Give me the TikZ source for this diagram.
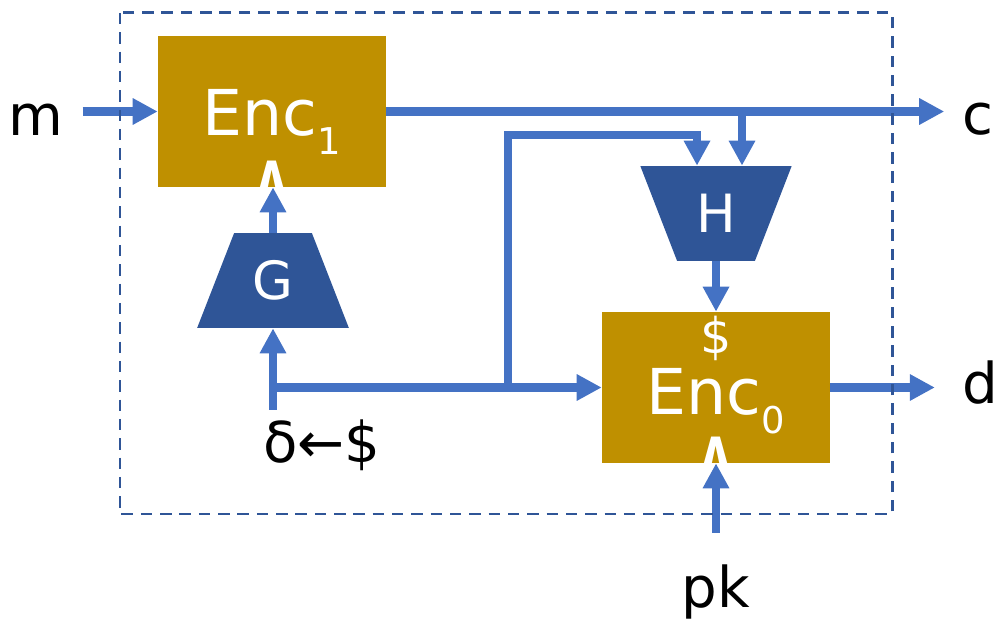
\documentclass[tikz,border=0pt]{standalone}
\usepackage{fontspec}
\setmainfont{DejaVu Sans}
\usetikzlibrary{arrows.meta,shapes.geometric}
\definecolor{EncGold}{HTML}{BF9000}
\definecolor{HashBlue}{HTML}{2F5597}
\definecolor{WireBlue}{HTML}{4472C4}
\newcommand{\encsub}[1]{\raisebox{-0.3em}{\fontsize{21}{21}\selectfont #1}}
\newcommand{\encname}[2]{\raisebox{-#2}[\height][\depth]{Enc\encsub{#1}}}

\begin{document}
\begin{tikzpicture}[
    x=0.02cm, y=-0.02cm,
    font=\fontsize{32}{36}\selectfont,
    enc/.style={fill=EncGold,minimum width=4.56cm,minimum height=3.02cm,
      text=white,inner sep=0pt,font=\fontsize{36}{40}\selectfont},
    hashfn/.style={trapezium,fill=HashBlue,text=white,trapezium stretches=true,
      minimum width=3.04cm,minimum height=1.9cm,inner sep=0pt,
      font=\fontsize{30}{34}\selectfont},
    tag/.style={text=white,inner sep=0pt,font=\fontsize{28}{30}\selectfont},
    keytag/.style={tag,font=\fontsize{26}{28}\selectfont\bfseries,anchor=base},
    lbl/.style={inner sep=0pt,anchor=base},
    flow/.style={-{Triangle[length=0.5cm,width=0.5cm]},line width=4.6pt,draw=WireBlue},
    frame/.style={draw=HashBlue,line width=1.7pt,dash pattern=on 6.5pt off 4.5pt}
  ]
    \useasboundingbox (0,0) rectangle (996,624);
    \node[enc] (enc1) at (272,111.5) {\encname{1}{0.2cm}};
    \node[enc] (enc0) at (716,387.5) {\encname{0}{0.27cm}};
    \node[hashfn,trapezium left angle=64,trapezium right angle=64] (G) at (273,280.5) {G};
    \node[hashfn,trapezium left angle=116,trapezium right angle=116] (H) at (716,213.5) {H};
    \node[tag] (rnd) at (716,338) {\$};
    \node[keytag] (key1) at (enc1.south) {∧};
    \node[keytag] (key0) at (enc0.south) {∧};
    \node[lbl] (m) at (36,136) {m};
    \node[lbl] (c) at (978,135) {c};
    \node[lbl] (d) at (980,403) {d};
    \node[lbl] (pk) at (716,607) {pk};
    \node[lbl] (delta) at (322,462) {δ←\$};
    \coordinate (tap) at (508,387.5);
    % wires
    \draw[flow] ([xshift=0.38cm]m.east |- enc1.west) -- (enc1.west);
    \draw[flow] (enc1.east) -- ([xshift=-0.36cm]c.west |- enc1.east);
    \draw[flow] ([xshift=0.52cm]H.north |- enc1.east) -- ([xshift=0.52cm]H.north);
    \draw[flow] (tap) |- ([xshift=-0.38cm,yshift=0.62cm]H.north) -- ([xshift=-0.38cm]H.north);
    \draw[flow] ([yshift=0.18cm]G.south |- delta.north) -- (G.south);
    \draw[flow] (G.south |- enc0.west) -- (enc0.west);
    \draw[flow] (G.north) -- (G.north |- enc1.south);
    \draw[flow] (H.south) -- (H.south |- enc0.north);
    \draw[flow] (enc0.east) -- ([xshift=-0.54cm]d.west |- enc0.east);
    \draw[flow] ([yshift=0.62cm]pk.north) -- (pk.north |- enc0.south);
    \draw[frame] (120,13) rectangle (892,514);
\end{tikzpicture}
\end{document}
